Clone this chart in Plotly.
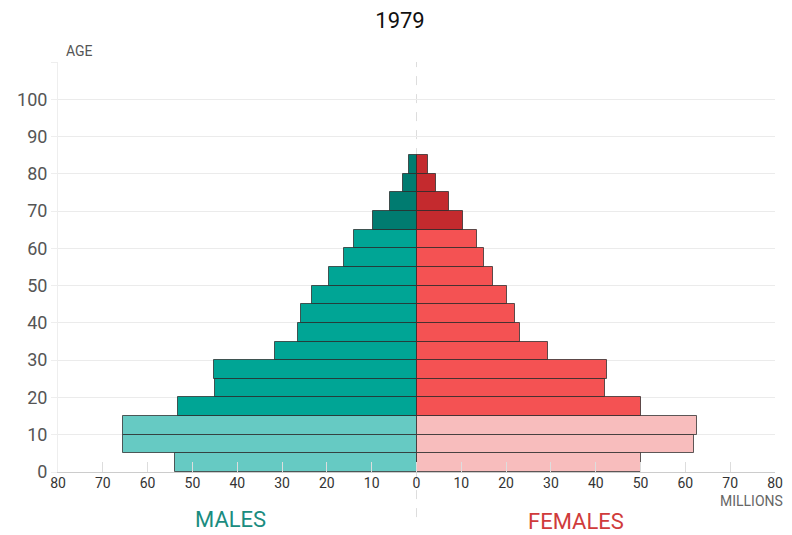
import plotly.graph_objects as go

# age bands (lower bound of each 5-year group)
age_start = [0, 5, 10, 15, 20, 25, 30, 35, 40, 45, 50, 55, 60, 65, 70, 75, 80]
males = [53.8, 65.6, 65.4, 53.3, 44.9, 45.3, 31.6, 26.4, 25.8, 23.3, 19.6, 16.2, 14.0, 9.8, 6.0, 3.1, 1.6]
females = [50.1, 62.0, 62.6, 50.1, 42.0, 42.4, 29.3, 23.0, 22.0, 20.3, 17.0, 15.0, 13.5, 10.4, 7.3, 4.4, 2.6]

age_ticks = [0, 10, 20, 30, 40, 50, 60, 70, 80, 90, 100]
x_ticks = [-80, -70, -60, -50, -40, -30, -20, -10, 0, 10, 20, 30, 40, 50, 60, 70, 80]


def band_color(age, young, mid, old):
    if age < 15:
        return young
    if age >= 65:
        return old
    return mid


mids = [a + 2.5 for a in age_start]
male_colors = [band_color(a, "#66cac3", "#00a595", "#007b70") for a in age_start]
female_colors = [band_color(a, "#f8bdbd", "#f45253", "#c42a2e") for a in age_start]

fig = go.Figure()
fig.add_trace(go.Bar(
    y=mids, x=[-v for v in males], orientation="h", width=5,
    marker=dict(color=male_colors, line=dict(color="rgba(40,40,40,0.75)", width=1)),
    hoverinfo="skip", showlegend=False,
))
fig.add_trace(go.Bar(
    y=mids, x=females, orientation="h", width=5,
    marker=dict(color=female_colors, line=dict(color="rgba(40,40,40,0.75)", width=1)),
    hoverinfo="skip", showlegend=False,
))

# dashed centre line
fig.add_shape(type="line", xref="x", yref="paper", x0=0, x1=0, y0=-0.11, y1=1,
              line=dict(color="#dddddd", width=1, dash="dash"), layer="below")

# page body has an 8px margin, so the figure is a little smaller than the window
fig.update_layout(
    width=784, height=527,
    margin=dict(l=50, r=9, t=54, b=63),
    paper_bgcolor="white", plot_bgcolor="white",
    barmode="overlay", bargap=0,
    font=dict(family="Roboto, sans-serif"),
    title=dict(text="1979", x=0.5, xanchor="center", y=0.976, yanchor="middle",
               font=dict(size=22, color="#111111")),
)
fig.update_xaxes(
    range=[-80, 80], tickvals=x_ticks, ticktext=[str(abs(v)) for v in x_ticks],
    showgrid=False, zeroline=False, showline=True, linecolor="#cccccc", linewidth=1,
    ticks="inside", ticklen=10, tickcolor="#dddddd", ticklabelstandoff=-2,
    tickfont=dict(size=14, color="#333333"),
)
fig.update_yaxes(
    range=[0, 110], tickvals=age_ticks + [110], ticktext=[str(v) for v in age_ticks] + [""],
    showgrid=True, gridcolor="#ebebeb", gridwidth=1, zeroline=False,
    showline=True, linecolor="#eeeeee", linewidth=1,
    ticks="outside", ticklen=6, tickcolor="#eeeeee",
    tickfont=dict(size=18, color="#555555"),
)

fig.add_annotation(text="AGE", xref="paper", yref="paper", x=0.009, y=1.027,
                   xanchor="left", yanchor="middle", showarrow=False,
                   font=dict(size=14, color="#555555"))
fig.add_annotation(text="MILLIONS", xref="paper", yref="paper", x=1.014, y=-0.07,
                   xanchor="right", yanchor="middle", showarrow=False,
                   font=dict(size=14, color="#666666"))
fig.add_annotation(text="MALES", xref="x", yref="paper", x=-41.5, y=-0.115,
                   xanchor="center", yanchor="middle", showarrow=False,
                   font=dict(size=22, color="#1a8c80"))
fig.add_annotation(text="FEMALES", xref="x", yref="paper", x=35.5, y=-0.12,
                   xanchor="center", yanchor="middle", showarrow=False,
                   font=dict(size=22, color="#d03b3b"))

fig.write_html("out.html")
